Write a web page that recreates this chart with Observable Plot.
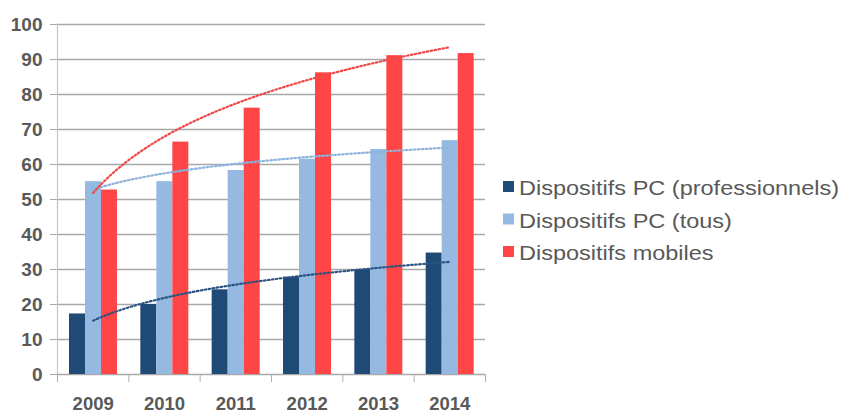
<!DOCTYPE html>
<html><head><meta charset="utf-8">
<script src="https://cdn.jsdelivr.net/npm/d3@7"></script>
<script src="https://cdn.jsdelivr.net/npm/@observablehq/plot@0.6"></script>
<style>
body{margin:0;background:#fff;}
#wrap{position:relative;width:845px;height:414px;overflow:hidden;background:#fff;}
#legend{position:absolute;left:0;top:0;}
</style>
</head><body>
<div id="wrap"><div id="chart"></div><svg id="legend" width="845" height="414"></svg></div>
<script>
const years = [2009, 2010, 2011, 2012, 2013, 2014];
const seriesNames = ["Dispositifs PC (professionnels)", "Dispositifs PC (tous)", "Dispositifs mobiles"];
const pcPro = [17.3, 20.0, 24.2, 27.8, 30.0, 34.7];
const pcAll = [55.1, 55.1, 58.3, 61.5, 64.3, 66.8];
const mobile = [52.7, 66.4, 76.1, 86.2, 91.1, 91.7];
const yTicks = [0, 10, 20, 30, 40, 50, 60, 70, 80, 90, 100];

const barColors = ["#1F4A75", "#95B9E0", "#FF4545"];
const trendColors = ["#2A5282", "#8DB2DB", "#F04848"];

const seriesValues = [pcPro, pcAll, mobile];
const W = 845, H = 414, mL = 57, mR = 360, mT = 24, mB = 40;
const bandPx = (W - mL - mR) / years.length;
const barPx = 16, groupLeft = 12;

// logarithmic trend (least squares y = a + b ln(i)), as the spreadsheet trendline
function logFit(vals) {
  const xs = vals.map((_, i) => Math.log(i + 1));
  const mx = d3.mean(xs), my = d3.mean(vals);
  const b = d3.sum(xs, (x, i) => (x - mx) * (vals[i] - my)) / d3.sum(xs, x => (x - mx) ** 2);
  return {a: my - b * mx, b};
}
const trends = seriesValues.map((vals, s) => {
  const {a, b} = logFit(vals);
  const pts = [];
  for (let k = 0; k <= 100; k++) {
    const t = years[0] + (years[years.length - 1] - years[0]) * k / 100;
    pts.push({t, v: a + b * Math.log(t - years[0] + 1), s});
  }
  return pts;
});

const boundaries = years.map(y => y - 0.5).concat([years[years.length - 1] + 0.5]);

const marks = [
  Plot.gridY(yTicks, {stroke: "#a8a8a8", strokeOpacity: 1, strokeWidth: 1.6}),
  Plot.ruleX([boundaries[0]], {y1: 0, y2: 100, stroke: "#c4c4c4", strokeWidth: 1.2}),
  Plot.axisY({ticks: yTicks, tickSize: 7, tickPadding: 8, stroke: "#a8a8a8", fill: "#595959",
    fontSize: 19, fontWeight: "bold", tickFormat: d => String(d), label: null}),
  Plot.axisX({ticks: years, tickSize: 0, tickPadding: 22, fill: "#595959",
    fontSize: 18.5, fontWeight: "bold", tickFormat: d => String(d), label: null}),
  Plot.axisX({ticks: boundaries, tickSize: 8, stroke: "#b0b0b0", tickFormat: () => "", label: null})
];
seriesValues.forEach((vals, s) => {
  const data = years.map((y, i) => ({year: y, value: vals[i]}));
  marks.push(Plot.rectY(data, {
    x1: d => d.year - 0.5, x2: d => d.year + 0.5, y: "value",
    fill: barColors[s],
    insetLeft: groupLeft + barPx * s,
    insetRight: bandPx - groupLeft - barPx * (s + 1)
  }));
});
trends.forEach((pts, s) => {
  marks.push(Plot.line(pts, {x: "t", y: "v", stroke: trendColors[s], strokeWidth: 2.2,
    strokeDasharray: "1.6 2.4", strokeLinecap: "round", curve: "linear"}));
});

const chart = Plot.plot({
  width: W, height: H,
  marginLeft: mL, marginRight: mR, marginTop: mT, marginBottom: mB,
  x: {type: "linear", domain: [boundaries[0], boundaries[boundaries.length - 1]], axis: null},
  y: {domain: [0, 100], axis: null},
  style: {fontFamily: "'Liberation Sans', Arial, sans-serif", background: "#fff", color: "#595959"},
  marks
});
document.getElementById("chart").appendChild(chart);

// legend
const leg = d3.select("#legend");
const baselines = [195, 227.5, 260];
seriesNames.forEach((name, s) => {
  leg.append("rect").attr("x", 503).attr("y", baselines[s] - 14).attr("width", 11).attr("height", 11)
    .attr("fill", barColors[s]);
  leg.append("text").attr("transform", `translate(519,${baselines[s]}) scale(1.12,1)`)
    .attr("font-family", "'Liberation Sans', Arial, sans-serif").attr("font-size", 21)
    .attr("fill", "#595959").text(name);
});
</script>
</body></html>
